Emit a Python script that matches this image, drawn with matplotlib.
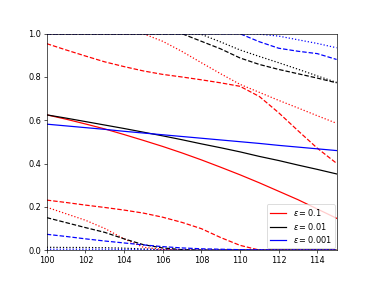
import matplotlib
matplotlib.use("Agg")
import matplotlib.pyplot as plt
import numpy as np

x = list(range(100, 116))

# red (eps = 0.1)
red_mean = [0.625, 0.605, 0.583, 0.560, 0.534, 0.507, 0.479, 0.449, 0.417, 0.383,
            0.348, 0.311, 0.272, 0.233, 0.190, 0.147]
red_dash_hi = [0.954, 0.925, 0.897, 0.870, 0.848, 0.828, 0.812, 0.800, 0.787, 0.773,
               0.757, 0.710, 0.635, 0.552, 0.471, 0.401]
red_dot_hi = [1.0, 1.0, 1.0, 1.0, 1.0, 1.0, 0.965, 0.918, 0.866, 0.815,
              0.766, 0.729, 0.692, 0.657, 0.621, 0.586]
red_dash_lo = [0.231, 0.220, 0.208, 0.197, 0.185, 0.171, 0.152, 0.128, 0.099, 0.058,
               0.022, 0.0, 0.0, 0.0, 0.0, 0.0]
red_dot_lo = [0.198, 0.168, 0.138, 0.100, 0.052, 0.013, 0.003, 0.0, 0.0, 0.0,
              0.0, 0.0, 0.0, 0.0, 0.0, 0.0]

# black (eps = 0.01)
blk_mean = [0.625, 0.610, 0.594, 0.578, 0.562, 0.545, 0.528, 0.510, 0.491, 0.473,
            0.454, 0.433, 0.414, 0.393, 0.373, 0.352]
blk_dash_hi = [1.0, 1.0, 1.0, 1.0, 1.0, 1.0, 1.0, 1.0, 0.965, 0.930,
               0.888, 0.858, 0.835, 0.815, 0.795, 0.773]
blk_dot_hi = [1.0, 1.0, 1.0, 1.0, 1.0, 1.0, 1.0, 1.0, 0.997, 0.962,
              0.925, 0.895, 0.866, 0.836, 0.805, 0.775]
blk_dash_lo = [0.150, 0.127, 0.104, 0.082, 0.052, 0.025, 0.010, 0.002, 0.0, 0.0,
               0.0, 0.0, 0.0, 0.0, 0.0, 0.0]
blk_dot_lo = [0.013, 0.012, 0.012, 0.011, 0.009, 0.005, 0.002, 0.0, 0.0, 0.0,
              0.0, 0.0, 0.0, 0.0, 0.0, 0.0]

# blue (eps = 0.001)
blu_mean = [0.582, 0.574, 0.566, 0.558, 0.549, 0.541, 0.533, 0.525, 0.517, 0.509,
            0.501, 0.493, 0.484, 0.476, 0.468, 0.460]
blu_dash_hi = [1.0, 1.0, 1.0, 1.0, 1.0, 1.0, 1.0, 1.0, 1.0, 1.0,
               1.0, 0.963, 0.933, 0.919, 0.908, 0.881]
blu_dot_hi = [1.0, 1.0, 1.0, 1.0, 1.0, 1.0, 1.0, 1.0, 1.0, 1.0,
              1.0, 0.998, 0.989, 0.972, 0.955, 0.935]
blu_dash_lo = [0.073, 0.063, 0.052, 0.042, 0.033, 0.024, 0.016, 0.010, 0.006, 0.004,
               0.002, 0.001, 0.0, 0.0, 0.0, 0.0]
blu_dot_lo = [0.004, 0.004, 0.004, 0.004, 0.003, 0.003, 0.002, 0.001, 0.0, 0.0,
              0.0, 0.0, 0.0, 0.0, 0.0, 0.0]

labels = [r'$\epsilon = 0.1$', r'$\epsilon = 0.01$', r'$\epsilon = 0.001$']

dpi = 58.5
fig = plt.figure(figsize=(374 / dpi, 281 / dpi), dpi=dpi)
ax = fig.add_subplot(111)

groups = [
    ('red', red_mean, red_dash_hi, red_dot_hi, red_dash_lo, red_dot_lo, labels[0]),
    ('black', blk_mean, blk_dash_hi, blk_dot_hi, blk_dash_lo, blk_dot_lo, labels[1]),
    ('blue', blu_mean, blu_dash_hi, blu_dot_hi, blu_dash_lo, blu_dot_lo, labels[2]),
]
for c, m, dh, th, dl, tl, lab in groups:
    ax.plot(x, m, color=c, linestyle='-', label=lab)
    ax.plot(x, dh, color=c, linestyle='--')
    ax.plot(x, dl, color=c, linestyle='--')
    ax.plot(x, th, color=c, linestyle=':')
    ax.plot(x, tl, color=c, linestyle=':')

ax.set_xlim(100, 115)
ax.set_ylim(0, 1)
ax.set_xticks([100, 102, 104, 106, 108, 110, 112, 114])
ax.set_yticks([0.0, 0.2, 0.4, 0.6, 0.8, 1.0])
ax.legend(loc='lower right', fontsize=10, borderaxespad=0.2, labelspacing=0.3)

fig.savefig('out.png', dpi=dpi)
